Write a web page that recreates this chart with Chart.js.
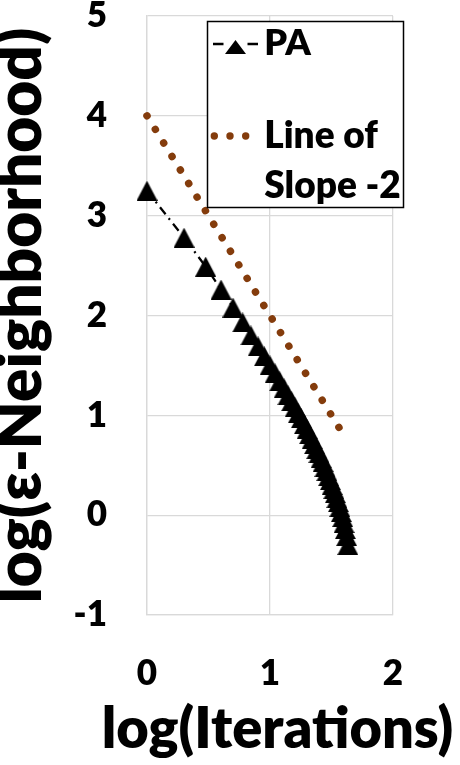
<!DOCTYPE html>
<html><head><meta charset="utf-8">
<script src="https://cdn.jsdelivr.net/npm/chart.js@4.4.0/dist/chart.umd.min.js"></script>
<style>html,body{margin:0;padding:0;background:#fff;overflow:hidden}canvas{display:block}</style>
</head><body>
<canvas id="c" width="460" height="765"></canvas>
<script>
// log(Iterations) for the PA series
const iterLog = [0, 0.301, 0.477, 0.602, 0.699, 0.778, 0.845, 0.903, 0.954, 1.0,
  1.041, 1.079, 1.114, 1.146, 1.176, 1.204, 1.23, 1.255, 1.279, 1.301,
  1.322, 1.342, 1.362, 1.38, 1.398, 1.415, 1.431, 1.447, 1.462, 1.477,
  1.491, 1.505, 1.519, 1.531, 1.544, 1.556, 1.568, 1.58, 1.591, 1.602,
  1.613, 1.623, 1.633];
// log(eps-Neighborhood) for PA
const paLog = [3.25, 2.78, 2.49, 2.26, 2.08, 1.93, 1.8, 1.69, 1.59, 1.5,
  1.42, 1.34, 1.27, 1.2, 1.14, 1.08, 1.02, 0.97, 0.91, 0.86,
  0.81, 0.76, 0.71, 0.66, 0.62, 0.57, 0.53, 0.48, 0.44, 0.39,
  0.35, 0.3, 0.26, 0.22, 0.17, 0.13, 0.08, 0.03, -0.02, -0.08,
  -0.14, -0.21, -0.3];
// Line of slope -2 (end points)
const slopeX = [0, 1.568];
const slopeY = [4, 0.864];
const xTickValues = [0, 1, 2];
const yTickValues = [-1, 0, 1, 2, 3, 4, 5];
const seriesNames = ['PA', 'Line of Slope -2'];
const legendLabels = [['PA'], ['Line of', 'Slope -2']];
const xTitle = 'log(Iterations)';
const yTitle = 'log(ε-Neighborhood)';

const FONT = 'Lato';
const WEIGHT = '800';
const BROWN = '#843C0C';
const GRID = '#d9d9d9';

function triangleImage(w, h) {
  const c = document.createElement('canvas');
  c.width = w; c.height = h;
  const g = c.getContext('2d');
  g.fillStyle = '#000';
  g.beginPath(); g.moveTo(w / 2, 0); g.lineTo(w, h); g.lineTo(0, h); g.closePath(); g.fill();
  return c;
}
const tri = triangleImage(21, 20);
const legendTri = triangleImage(21, 14);

const boxLegend = {
  id: 'boxLegend',
  afterDatasetsDraw(chart) {
    const ctx = chart.ctx;
    const ds = chart.data.datasets;
    ctx.save();
    const L = 207.5, T = 21.5, R = 403.5, B = 207.5;
    ctx.fillStyle = '#fff';
    ctx.fillRect(L, T, R - L, B - T);
    ctx.strokeStyle = '#000';
    ctx.lineWidth = 1.5;
    ctx.strokeRect(L, T, R - L, B - T);
    // PA entry
    ctx.strokeStyle = ds[0].borderColor;
    ctx.lineWidth = 2.5;
    ctx.beginPath();
    ctx.moveTo(213, 44); ctx.lineTo(223.5, 44);
    ctx.moveTo(247.5, 44); ctx.lineTo(258, 44);
    ctx.stroke();
    ctx.drawImage(legendTri, 225, 40);
    // slope entry
    ctx.fillStyle = ds[1].borderColor;
    [214.3, 230, 245.7].forEach(x => { ctx.beginPath(); ctx.arc(x, 136, 3.7, 0, Math.PI * 2); ctx.fill(); });
    ctx.fillStyle = '#000';
    ctx.textBaseline = 'alphabetic';
    ctx.textAlign = 'left';
    ctx.font = WEIGHT + ' 36px ' + FONT;
    ctx.fillText(legendLabels[0][0], 264.3, 55);
    ctx.font = WEIGHT + ' 37px ' + FONT;
    ctx.fillText(legendLabels[1][0], 264.3, 147.5);
    ctx.fillText(legendLabels[1][1], 264.3, 198);
    ctx.restore();
  }
};

// x-axis title drawn centred under the chart (the built-in one is squeezed to the plot width)
const xAxisTitle = {
  id: 'xAxisTitle',
  afterDraw(chart) {
    const ctx = chart.ctx;
    ctx.save();
    ctx.fillStyle = '#000';
    ctx.font = WEIGHT + ' 56px ' + FONT;
    ctx.textAlign = 'center';
    ctx.textBaseline = 'alphabetic';
    ctx.fillText(xTitle, 277.5, 748);
    ctx.restore();
  }
};

new Chart(document.getElementById('c'), {
  type: 'line',
  data: {
    datasets: [
      {
        label: seriesNames[0],
        data: iterLog.map((x, i) => ({ x, y: paLog[i] })),
        borderColor: '#000',
        backgroundColor: '#000',
        borderWidth: 2.25,
        borderDash: [9, 5, 2, 5],
        pointStyle: tri,
        pointRadius: 10,
        clip: false,
        order: 1
      },
      {
        label: seriesNames[1],
        data: slopeX.map((x, i) => ({ x, y: slopeY[i] })),
        borderColor: BROWN,
        backgroundColor: BROWN,
        borderWidth: 7.5,
        borderCapStyle: 'round',
        borderDash: [0.01, 15.9],
        pointRadius: 0,
        clip: false,
        order: 2
      }
    ]
  },
  options: {
    responsive: false,
    animation: false,
    devicePixelRatio: 1,
    layout: { padding: { top: 16, right: 67, left: 0, bottom: 0 } },
    plugins: { legend: { display: false }, tooltip: { enabled: false } },
    scales: {
      x: {
        type: 'linear', min: 0, max: 2,
        afterFit: s => { s.height = 150; s.paddingLeft = 0; s.paddingRight = 0; },
        afterBuildTicks: s => { s.ticks = xTickValues.map(v => ({ value: v })); },
        grid: { color: GRID, lineWidth: 1.3, drawTicks: false },
        border: { color: GRID, width: 1.3 },
        ticks: { color: '#000', font: { family: FONT, size: 35, weight: WEIGHT }, padding: 38, maxRotation: 0 },
        title: { display: false, text: xTitle }
      },
      y: {
        type: 'linear', min: -1, max: 5,
        afterFit: s => { s.width = 147; s.paddingTop = 0; s.paddingBottom = 0; },
        afterBuildTicks: s => { s.ticks = yTickValues.map(v => ({ value: v })); },
        grid: { color: GRID, lineWidth: 1.3, drawTicks: false },
        border: { color: GRID, width: 1.3 },
        ticks: { color: '#000', font: { family: FONT, size: 35, weight: WEIGHT }, padding: 40 },
        title: { display: true, text: yTitle, color: '#000', font: { family: FONT, size: 62, weight: WEIGHT, lineHeight: 1 }, padding: { top: -10, bottom: 0 } }
      }
    }
  },
  plugins: [boxLegend, xAxisTitle]
});
</script>
</body></html>
